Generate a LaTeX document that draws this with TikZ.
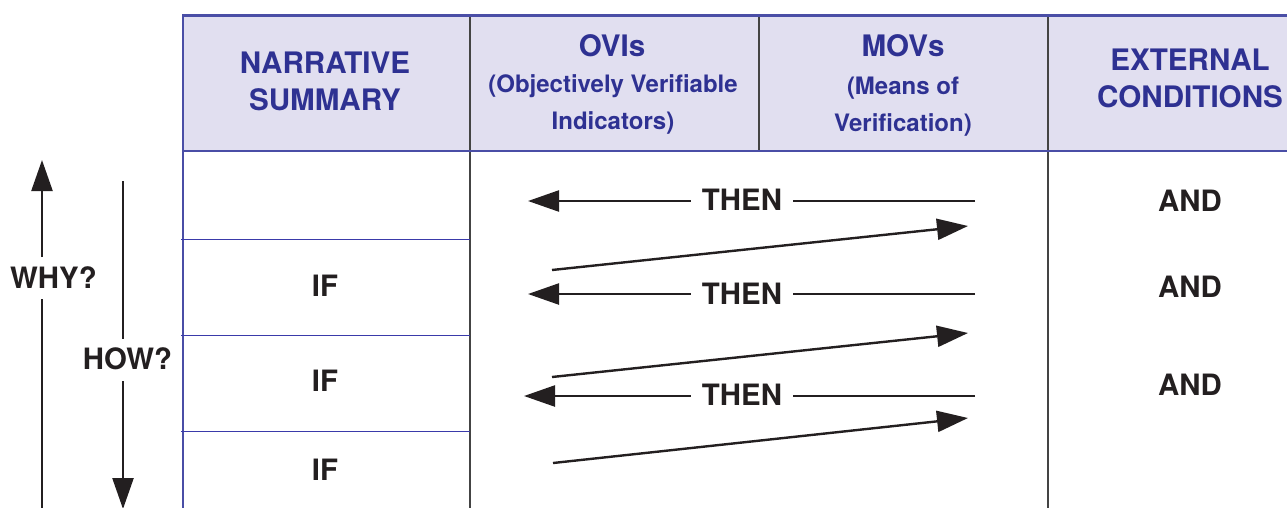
\documentclass[tikz,border=0pt]{standalone}
\usepackage{fontspec}
\setmainfont{TeX Gyre Heros}
\usetikzlibrary{arrows.meta}
\definecolor{hdrfill}{HTML}{E1DFF0}
\definecolor{hdrblue}{HTML}{2E3192}
\definecolor{rule}{HTML}{4A4EA6}
\definecolor{rowrule}{HTML}{3A3AAA}
\definecolor{divgray}{HTML}{444444}
\definecolor{ink}{HTML}{231F20}
\tikzset{
  hbig/.style={text=hdrblue, font=\bfseries\fontsize{29.6}{34}\selectfont, anchor=base, inner sep=0pt},
  hsmall/.style={text=hdrblue, font=\bfseries\fontsize{24}{28}\selectfont, anchor=base, inner sep=0pt},
  body/.style={text=ink, font=\bfseries\fontsize{29.4}{34}\selectfont, anchor=base, inner ysep=0pt, inner xsep=12pt},
  arr/.style={draw=ink, line width=2.4pt, -{Triangle[length=31pt,width=21pt]}},
  plain/.style={draw=ink, line width=2.4pt},
}
\begin{document}
\begin{tikzpicture}[x=1pt,y=-1pt]
\useasboundingbox (0,0) rectangle (1287,507);
% header band
\fill[hdrfill] (183,15) rectangle (1290,151);
% column dividers
\draw[divgray, line width=1.4pt] (470,15) -- (470,510);
\draw[divgray, line width=1.4pt] (759,15) -- (759,151);
\draw[divgray, line width=1.4pt] (1048,15) -- (1048,510);
% outer rules
\draw[rule, line width=3pt] (182,15) -- (1290,15);
\draw[rule, line width=2.5pt] (183,14) -- (183,151);
\draw[rule, line width=1.8pt] (183,151) -- (183,510);
\draw[rule, line width=1.8pt] (183,151) -- (1290,151);
% row rules of the narrative column
\foreach \yy in {239,335,431}
  \draw[rowrule, line width=1pt] (181,\yy) -- (470,\yy);

% header texts
\node[hbig] (nar1) at (325,73) {NARRATIVE};
\node[hbig] (nar2) at (325,110) {SUMMARY};
\node[hbig] (ovi1) at (612,56) {OVIs};
\node[hsmall] (ovi2) at (613,92) {(Objectively Verifiable};
\node[hsmall] (ovi3) at (613,129) {Indicators)};
\node[hbig] (mov1) at (903,56) {MOVs};
\node[hsmall] (mov2) at (903,94) {(Means of};
\node[hsmall] (mov3) at (903,131) {Verification)};
\node[hbig] (ext1) at (1190,70) {EXTERNAL};
\node[hbig] (ext2) at (1190,107) {CONDITIONS};

% IF / THEN / AND
\node[body] (if1) at (325,296) {IF};
\node[body] (if2) at (325,391) {IF};
\node[body] (if3) at (325,480) {IF};
\node[body] (and1) at (1190,211) {AND};
\node[body] (and2) at (1190,297) {AND};
\node[body] (and3) at (1190,395) {AND};
\node[body, inner xsep=11pt] (then1) at (742,210) {THEN};
\node[body, inner xsep=11pt] (then2) at (742,304) {THEN};
\node[body, inner xsep=11pt] (then3) at (742,405) {THEN};

\coordinate (l1) at (528,201); \coordinate (r1) at (975,201);
\coordinate (l2) at (528,294); \coordinate (r2) at (975,294);
\coordinate (l3) at (524,396); \coordinate (r3) at (975,396);
\draw[plain] (r1) -- (then1.east |- r1);
\draw[arr] (then1.west |- l1) -- (l1);
\draw[plain] (r2) -- (then2.east |- r2);
\draw[arr] (then2.west |- l2) -- (l2);
\draw[plain] (r3) -- (then3.east |- r3);
\draw[arr] (then3.west |- l3) -- (l3);

% rising arrows
\coordinate (a1) at (552,270); \coordinate (b1) at (968,226);
\coordinate (a2) at (552,377); \coordinate (b2) at (968,333);
\coordinate (a3) at (553,463); \coordinate (b3) at (968,418);
\draw[arr] (a1) -- (b1);
\draw[arr] (a2) -- (b2);
\draw[arr] (a3) -- (b3);

% WHY? / HOW?
\node[body, inner xsep=0pt] (why) at (53.5,288) {WHY?};
\node[body, inner xsep=0pt] (how) at (127.5,369) {HOW?};
\coordinate (whytop) at (42,160); \coordinate (whybot) at (42,510);
\coordinate (howtop) at (123,181); \coordinate (howbot) at (123,509);
\draw[arr] (42,257) -- (whytop);
\draw[plain] (42,299) -- (whybot);
\draw[plain] (howtop) -- (123,339);
\draw[arr] (123,381) -- (howbot);
\end{tikzpicture}
\end{document}
